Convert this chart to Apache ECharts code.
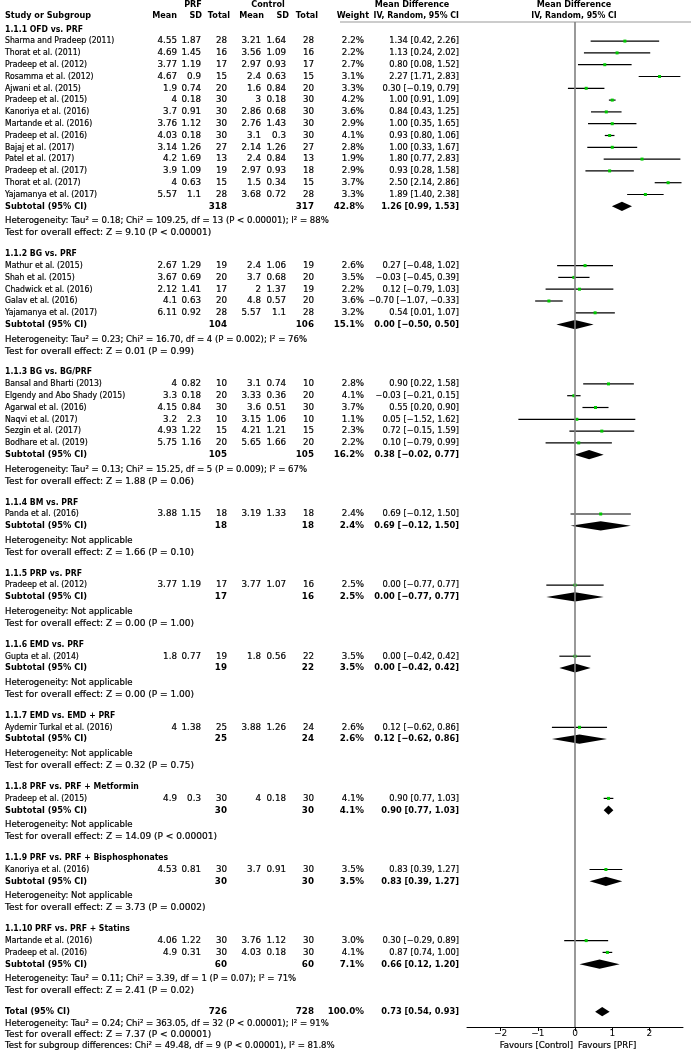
<!DOCTYPE html>
<html><head><meta charset="utf-8">
<script src="https://cdn.jsdelivr.net/npm/echarts@6/dist/echarts.min.js"></script>
<style>html,body{margin:0;padding:0;background:#fff}#c{width:691px;height:1057px}</style>
</head><body><div id="c"></div>
<script>
// ---------------- DATA ----------------
const subgroupTitles = ['1.1.1 OFD vs. PRF','1.1.2 BG vs. PRF','1.1.3 BG vs. BG/PRF','1.1.4 BM vs. PRF','1.1.5 PRP vs. PRF','1.1.6 EMD vs. PRF','1.1.7 EMD vs. EMD + PRF','1.1.8 PRF vs. PRF + Metformin','1.1.9 PRF vs. PRF + Bisphosphonates','1.1.10 PRF vs. PRF + Statins'];
const studyGroup = [0,0,0,0,0,0,0,0,0,0,0,0,0,0, 1,1,1,1,1, 2,2,2,2,2,2, 3,4,5,6,7,8,9,9];
const studyNames = ['Sharma and Pradeep (2011)','Thorat et al. (2011)','Pradeep et al. (2012)','Rosamma et al. (2012)','Ajwani et al. (2015)','Pradeep et al. (2015)','Kanoriya et al. (2016)','Martande et al. (2016)','Pradeep et al. (2016)','Bajaj et al. (2017)','Patel et al. (2017)','Pradeep et al. (2017)','Thorat et al. (2017)','Yajamanya et al. (2017)',
 'Mathur et al. (2015)','Shah et al. (2015)','Chadwick et al. (2016)','Galav et al. (2016)','Yajamanya et al. (2017)',
 'Bansal and Bharti (2013)','Elgendy and Abo Shady (2015)','Agarwal et al. (2016)','Naqvi et al. (2017)','Sezgin et al. (2017)','Bodhare et al. (2019)',
 'Panda et al. (2016)','Pradeep et al. (2012)','Gupta et al. (2014)','Aydemir Turkal et al. (2016)','Pradeep et al. (2015)','Kanoriya et al. (2016)','Martande et al. (2016)','Pradeep et al. (2016)'];
const prfMean  = [4.55,4.69,3.77,4.67,1.9,4,3.7,3.76,4.03,3.14,4.2,3.9,4,5.57, 2.67,3.67,2.12,4.1,6.11, 4,3.3,4.15,3.2,4.93,5.75, 3.88,3.77,1.8,4,4.9,4.53,4.06,4.9];
const prfSD    = [1.87,1.45,1.19,0.9,0.74,0.18,0.91,1.12,0.18,1.26,1.69,1.09,0.63,1.1, 1.29,0.69,1.41,0.63,0.92, 0.82,0.18,0.84,2.3,1.22,1.16, 1.15,1.19,0.77,1.38,0.3,0.81,1.22,0.31];
const prfTotal = [28,16,17,15,20,30,30,30,30,27,13,19,15,28, 19,20,17,20,28, 10,20,30,10,15,20, 18,17,19,25,30,30,30,30];
const ctlMean  = [3.21,3.56,2.97,2.4,1.6,3,2.86,2.76,3.1,2.14,2.4,2.97,1.5,3.68, 2.4,3.7,2,4.8,5.57, 3.1,3.33,3.6,3.15,4.21,5.65, 3.19,3.77,1.8,3.88,4,3.7,3.76,4.03];
const ctlSD    = [1.64,1.09,0.93,0.63,0.84,0.18,0.68,1.43,0.3,1.26,0.84,0.93,0.34,0.72, 1.06,0.68,1.37,0.57,1.1, 0.74,0.36,0.51,1.06,1.21,1.66, 1.33,1.07,0.56,1.26,0.18,0.91,1.12,0.18];
const ctlTotal = [28,16,17,15,20,30,30,30,30,27,13,18,15,28, 19,20,19,20,28, 10,20,30,10,15,20, 18,16,22,24,30,30,30,30];
const studyWeight = [2.2,2.2,2.7,3.1,3.3,4.2,3.6,2.9,4.1,2.8,1.9,2.9,3.7,3.3, 2.6,3.5,2.2,3.6,3.2, 2.8,4.1,3.7,1.1,2.3,2.2, 2.4,2.5,3.5,2.6,4.1,3.5,3.0,4.1];
const studyMD   = [1.34,1.13,0.80,2.27,0.30,1.00,0.84,1.00,0.93,1.00,1.80,0.93,2.50,1.89, 0.27,-0.03,0.12,-0.70,0.54, 0.90,-0.03,0.55,0.05,0.72,0.10, 0.69,0.00,0.00,0.12,0.90,0.83,0.30,0.87];
const studyLow  = [0.42,0.24,0.08,1.71,-0.19,0.91,0.43,0.35,0.80,0.33,0.77,0.28,2.14,1.40, -0.48,-0.45,-0.79,-1.07,0.01, 0.22,-0.21,0.20,-1.52,-0.15,-0.79, -0.12,-0.77,-0.42,-0.62,0.77,0.39,-0.29,0.74];
const studyHigh = [2.26,2.02,1.52,2.83,0.79,1.09,1.25,1.65,1.06,1.67,2.83,1.58,2.86,2.38, 1.02,0.39,1.03,-0.33,1.07, 1.58,0.15,0.90,1.62,1.59,0.99, 1.50,0.77,0.42,0.86,1.03,1.27,0.89,1.00];

const subPrfTotal = [318,104,105,18,17,19,25,30,30,60];
const subCtlTotal = [317,106,105,18,16,22,24,30,30,60];
const subWeight   = [42.8,15.1,16.2,2.4,2.5,3.5,2.6,4.1,3.5,7.1];
const subMD   = [1.26,0.00,0.38,0.69,0.00,0.00,0.12,0.90,0.83,0.66];
const subLow  = [0.99,-0.50,-0.02,-0.12,-0.77,-0.42,-0.62,0.77,0.39,0.12];
const subHigh = [1.53,0.50,0.77,1.50,0.77,0.42,0.86,1.03,1.27,1.20];
const subHeterogeneity = [
 'Heterogeneity: Tau² = 0.18; Chi² = 109.25, df = 13 (P < 0.00001); I² = 88%',
 'Heterogeneity: Tau² = 0.23; Chi² = 16.70, df = 4 (P = 0.002); I² = 76%',
 'Heterogeneity: Tau² = 0.13; Chi² = 15.25, df = 5 (P = 0.009); I² = 67%',
 'Heterogeneity: Not applicable','Heterogeneity: Not applicable','Heterogeneity: Not applicable',
 'Heterogeneity: Not applicable','Heterogeneity: Not applicable','Heterogeneity: Not applicable',
 'Heterogeneity: Tau² = 0.11; Chi² = 3.39, df = 1 (P = 0.07); I² = 71%'];
const subOverall = [
 'Test for overall effect: Z = 9.10 (P < 0.00001)','Test for overall effect: Z = 0.01 (P = 0.99)',
 'Test for overall effect: Z = 1.88 (P = 0.06)','Test for overall effect: Z = 1.66 (P = 0.10)',
 'Test for overall effect: Z = 0.00 (P = 1.00)','Test for overall effect: Z = 0.00 (P = 1.00)',
 'Test for overall effect: Z = 0.32 (P = 0.75)','Test for overall effect: Z = 14.09 (P < 0.00001)',
 'Test for overall effect: Z = 3.73 (P = 0.0002)','Test for overall effect: Z = 2.41 (P = 0.02)'];
const totalCounts = [726, 728];
const totalWeight = 100.0;
const totalEffect = [0.73, 0.54, 0.93];
const totalNotes = [
 'Heterogeneity: Tau² = 0.24; Chi² = 363.05, df = 32 (P < 0.00001); I² = 91%',
 'Test for overall effect: Z = 7.37 (P < 0.00001)',
 'Test for subgroup differences: Chi² = 49.48, df = 9 (P < 0.00001), I² = 81.8%'];
const xTicks = [-2,-1,0,1,2];
const favourLabels = ['Favours [Control]','Favours [PRF]'];

// ---------------- LAYOUT ----------------
const FONT = '"DejaVu Sans", sans-serif';
const FS = 9;
const P = 11.8, GAP_HET = 3, GAP_SEC = 20.9;
const X = {name:5, m1:177, sd1:201, n1:227, m2:261, sd2:286, n2:314, w:364, ci:459};
// horizontal text scales (per kind of text)
const S = {name:0.86, title:0.86, head:0.9, num:0.97, ci:0.92, sub:0.92, het:0.95, test:1.0, fav:0.95};
const f2 = v => (v < 0 ? '−' : '') + Math.abs(v).toFixed(2);
const fci = (m, l, h) => f2(m) + ' [' + f2(l) + ', ' + f2(h) + ']';
const fnum = v => String(v);

const texts = [];    // [x, y, text, align, bold, scaleX]
const ciRows = [];   // [md, y, lo, hi]
const diamonds = []; // [md, y, lo, hi]
const T = (x, y, s, a, b, sc) => texts.push([x, y, s, a, b, sc || 1]);

// header
T(193, 4.5, 'PRF', 'center', 1, S.head);
T(268, 4.5, 'Control', 'center', 1, S.head);
T(412, 4.5, 'Mean Difference', 'center', 1, S.head);
T(574, 4.5, 'Mean Difference', 'center', 1, S.head);
T(X.name, 16, 'Study or Subgroup', 'left', 1, S.head);
T(177, 16, 'Mean', 'right', 1, S.head);
T(202, 16, 'SD', 'right', 1, S.head);
T(230, 16, 'Total', 'right', 1, S.head);
T(264, 16, 'Mean', 'right', 1, S.head);
T(289, 16, 'SD', 'right', 1, S.head);
T(318, 16, 'Total', 'right', 1, S.head);
T(369, 16, 'Weight', 'right', 1, S.head);
T(459, 16, 'IV, Random, 95% CI', 'right', 1, 0.87);
T(574, 16, 'IV, Random, 95% CI', 'center', 1, 0.87);

let y = 29.3;
subgroupTitles.forEach((title, g) => {
  T(X.name, y, title, 'left', 1, S.title);
  studyGroup.forEach((gg, i) => {
    if (gg !== g) return;
    y += P;
    T(X.name, y, studyNames[i], 'left', 0, S.name);
    T(X.m1, y, fnum(prfMean[i]), 'right', 0, S.num);
    T(X.sd1, y, fnum(prfSD[i]), 'right', 0, S.num);
    T(X.n1, y, fnum(prfTotal[i]), 'right', 0, S.num);
    T(X.m2, y, fnum(ctlMean[i]), 'right', 0, S.num);
    T(X.sd2, y, fnum(ctlSD[i]), 'right', 0, S.num);
    T(X.n2, y, fnum(ctlTotal[i]), 'right', 0, S.num);
    T(X.w, y, studyWeight[i].toFixed(1) + '%', 'right', 0, S.num);
    T(X.ci, y, fci(studyMD[i], studyLow[i], studyHigh[i]), 'right', 0, S.ci);
    ciRows.push([studyMD[i], y, studyLow[i], studyHigh[i]]);
  });
  y += P;
  T(X.name, y, 'Subtotal (95% CI)', 'left', 1, S.sub);
  T(X.n1, y, fnum(subPrfTotal[g]), 'right', 1, S.num);
  T(X.n2, y, fnum(subCtlTotal[g]), 'right', 1, S.num);
  T(X.w, y, subWeight[g].toFixed(1) + '%', 'right', 1, S.num);
  T(X.ci, y, fci(subMD[g], subLow[g], subHigh[g]), 'right', 1, S.ci);
  diamonds.push([subMD[g], y, subLow[g], subHigh[g]]);
  y += P + GAP_HET;
  T(X.name, y, subHeterogeneity[g], 'left', 0, S.het);
  y += P;
  T(X.name, y, subOverall[g], 'left', 0, S.test);
  y += GAP_SEC;
});
T(X.name, y, 'Total (95% CI)', 'left', 1, S.sub);
T(X.n1, y, fnum(totalCounts[0]), 'right', 1, S.num);
T(X.n2, y, fnum(totalCounts[1]), 'right', 1, S.num);
T(X.w, y, totalWeight.toFixed(1) + '%', 'right', 1, S.num);
T(X.ci, y, fci(totalEffect[0], totalEffect[1], totalEffect[2]), 'right', 1, S.ci);
diamonds.push([totalEffect[0], y, totalEffect[1], totalEffect[2]]);
y += 12;
T(X.name, y, totalNotes[0], 'left', 0, S.het);
y += 10.5;
T(X.name, y, totalNotes[1], 'left', 0, S.test);
y += 11;
T(X.name, y, totalNotes[2], 'left', 0, S.het);
T(573, 1045.5, favourLabels[0], 'right', 0, S.fav);
T(578, 1045.5, favourLabels[1], 'left', 0, S.fav);

// ---------------- CHART ----------------
const chart = echarts.init(document.getElementById('c'), null, {renderer: 'canvas'});
chart.setOption({
  animation: false,
  backgroundColor: '#fff',
  grid: [
    {left: 0, right: 0, top: 0, bottom: 0},
    {left: 467, right: 8, top: 22, bottom: 30}
  ],
  xAxis: [
    {type: 'value', gridIndex: 0, min: 0, max: 691, show: false},
    {type: 'value', gridIndex: 1, min: -2.9, max: 2.9,
     splitLine: {show: false},
     axisLine: {show: true, onZero: false, lineStyle: {color: '#000', width: 1}},
     axisTick: {show: true, customValues: xTicks, length: 4, lineStyle: {color: '#000', width: 1}},
     axisLabel: {show: true, customValues: xTicks, color: '#000', fontSize: 9, fontFamily: FONT, margin: 2,
       formatter: v => (v < 0 ? '−' + Math.abs(v) : String(v))}}
  ],
  yAxis: [
    {type: 'value', gridIndex: 0, min: 0, max: 1057, inverse: true, show: false},
    {type: 'value', gridIndex: 1, min: 22, max: 1027, inverse: true, show: false}
  ],
  graphic: [
    {type: 'line', shape: {x1: 340, y1: 22, x2: 691, y2: 22}, style: {stroke: '#999', lineWidth: 1}, silent: true}
  ],
  series: [
    {
      type: 'custom', name: 'table', xAxisIndex: 0, yAxisIndex: 0, silent: true,
      data: texts.map(t => [t[0], t[1]]),
      renderItem: (params, api) => {
        const t = texts[params.dataIndex];
        const pt = api.coord([t[0], t[1]]);
        return {type: 'text', x: pt[0], y: pt[1], scaleX: t[5],
          style: {text: t[2], x: 0, y: 0, align: t[3], verticalAlign: 'middle',
          fill: '#000', stroke: t[4] ? null : '#000', lineWidth: t[4] ? 0 : 0.2,
          font: (t[4] ? 'bold ' : 'normal ') + FS + 'px ' + FONT}};
      }
    },
    {
      type: 'custom', name: 'studies', xAxisIndex: 1, yAxisIndex: 1, silent: true,
      data: ciRows,
      encode: {x: [0, 2, 3], y: 1},
      renderItem: (params, api) => {
        const m = api.coord([api.value(0), api.value(1)]);
        const l = api.coord([api.value(2), api.value(1)]);
        const h = api.coord([api.value(3), api.value(1)]);
        return {type: 'group', children: [
          {type: 'line', shape: {x1: l[0], y1: l[1], x2: h[0], y2: h[1]}, style: {stroke: '#000', lineWidth: 1.2}},
          {type: 'rect', shape: {x: m[0] - 1.5, y: m[1] - 1.5, width: 3, height: 3}, style: {fill: '#00c800'}}
        ]};
      },
      markLine: {
        silent: true, symbol: 'none', label: {show: false},
        lineStyle: {color: '#808080', width: 1.6, type: 'solid'},
        data: [{xAxis: 0}]
      }
    },
    {
      type: 'custom', name: 'pooled', xAxisIndex: 1, yAxisIndex: 1, silent: true,
      data: diamonds,
      encode: {x: [0, 2, 3], y: 1},
      renderItem: (params, api) => {
        const m = api.coord([api.value(0), api.value(1)]);
        const l = api.coord([api.value(2), api.value(1)]);
        const h = api.coord([api.value(3), api.value(1)]);
        const hh = 4.6;
        return {type: 'polygon', shape: {points: [[l[0], l[1]], [m[0], m[1] - hh], [h[0], h[1]], [m[0], m[1] + hh]]},
          style: {fill: '#000'}};
      }
    }
  ]
});
</script>
</body></html>
